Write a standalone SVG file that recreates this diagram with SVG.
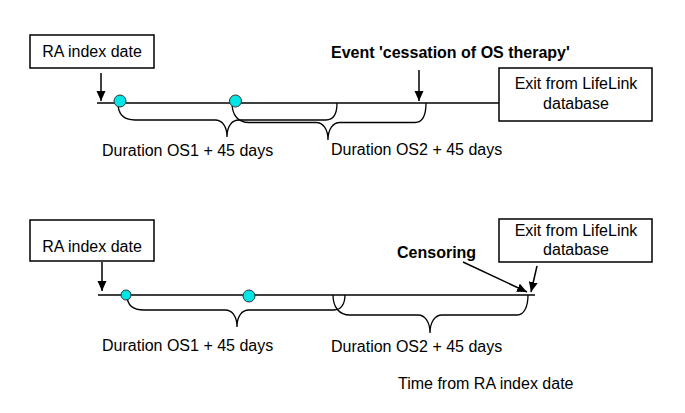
<svg xmlns="http://www.w3.org/2000/svg" width="685" height="413" viewBox="0 0 685 413">
<defs>
<marker id="ah" viewBox="0 0 10 10" refX="10" refY="5" markerWidth="10" markerHeight="10" markerUnits="userSpaceOnUse" orient="auto">
<path d="M0,0.5 L10,5 L0,9.5 Z" fill="#000"/>
</marker>
<style>
.t{font-family:"Liberation Sans",Arial,sans-serif;font-size:16px;fill:#000}
.b{font-weight:bold}
.box{fill:#fff;stroke:#000;stroke-width:1.5}
.ln{fill:none;stroke:#000;stroke-width:1.3}
.ar{fill:none;stroke:#000;stroke-width:1.5;marker-end:url(#ah)}
.dot{fill:#00e5e5;stroke:#333;stroke-width:1}
</style>
</defs>
<rect width="685" height="413" fill="#fff"/>

<g id="connectors">
<!-- top panel -->
<line class="ln" x1="97" y1="103" x2="499" y2="103"/>
<line class="ar" x1="101" y1="73" x2="101" y2="101"/>
<line class="ar" x1="419" y1="70" x2="419" y2="101"/>
<path class="ln" d="M118,103 C118,114 124,120 135,120 L215,120 C222,120 227,126 227,137 C227,126 232,120 239,120 L326,120 C333,120 337,114 337,103"/>
<path class="ln" d="M232,103 C232,115 238,122.5 249,122.5 L316,122.5 C323,122.5 328,129 328,140 C328,129 333,122.5 340,122.5 L415,122.5 C422,122.5 426,116 426,103"/>
<!-- bottom panel -->
<line class="ln" x1="98" y1="295" x2="535" y2="295"/>
<line class="ar" x1="102" y1="262" x2="102" y2="291"/>
<path class="ln" d="M127,295 C127,305 133,310 144,310 L225,310 C232,310 237,316 237,327 C237,316 242,310 249,310 L334,310 C341,310 345,304 345,295"/>
<path class="ln" d="M333,295 C333,307 339,315 350,315 L418,315 C425,315 430,322 430,333 C430,322 435,315 442,315 L517,315 C524,315 528,307 528,295"/>
<line class="ar" x1="463" y1="262" x2="527" y2="292"/>
<line class="ar" x1="537" y1="266" x2="531" y2="292"/>
</g>

<g id="dots">
<circle class="dot" cx="120" cy="101" r="6"/>
<circle class="dot" cx="235.5" cy="101" r="6"/>
<circle class="dot" cx="126" cy="295" r="5"/>
<circle class="dot" cx="249" cy="296" r="6"/>
</g>

<g id="ra-top">
<rect class="box" x="30" y="35" width="124" height="33"/>
<text class="t" x="92" y="57" text-anchor="middle">RA index date</text>
</g>
<g id="event-top">
<text class="t b" x="331" y="58">Event 'cessation of OS therapy'</text>
</g>
<g id="exit-top">
<rect class="box" x="499" y="68" width="153" height="53"/>
<text class="t" x="576" y="89" text-anchor="middle">Exit from LifeLink</text>
<text class="t" x="576" y="109" text-anchor="middle">database</text>
</g>
<g id="dur1-top"><text class="t" x="102" y="156">Duration OS1 + 45 days</text></g>
<g id="dur2-top"><text class="t" x="331" y="155">Duration OS2 + 45 days</text></g>

<g id="ra-bottom">
<rect class="box" x="30" y="220" width="124" height="41"/>
<text class="t" x="92" y="252" text-anchor="middle">RA index date</text>
</g>
<g id="exit-bottom">
<rect class="box" x="499" y="219" width="153" height="43"/>
<text class="t" x="576" y="236" text-anchor="middle">Exit from LifeLink</text>
<text class="t" x="576" y="255" text-anchor="middle">database</text>
</g>
<g id="censoring"><text class="t b" x="397" y="258">Censoring</text></g>
<g id="dur1-bottom"><text class="t" x="102" y="351">Duration OS1 + 45 days</text></g>
<g id="dur2-bottom"><text class="t" x="331" y="352">Duration OS2 + 45 days</text></g>
<g id="axis-label"><text class="t" x="398" y="389">Time from RA index date</text></g>
</svg>
